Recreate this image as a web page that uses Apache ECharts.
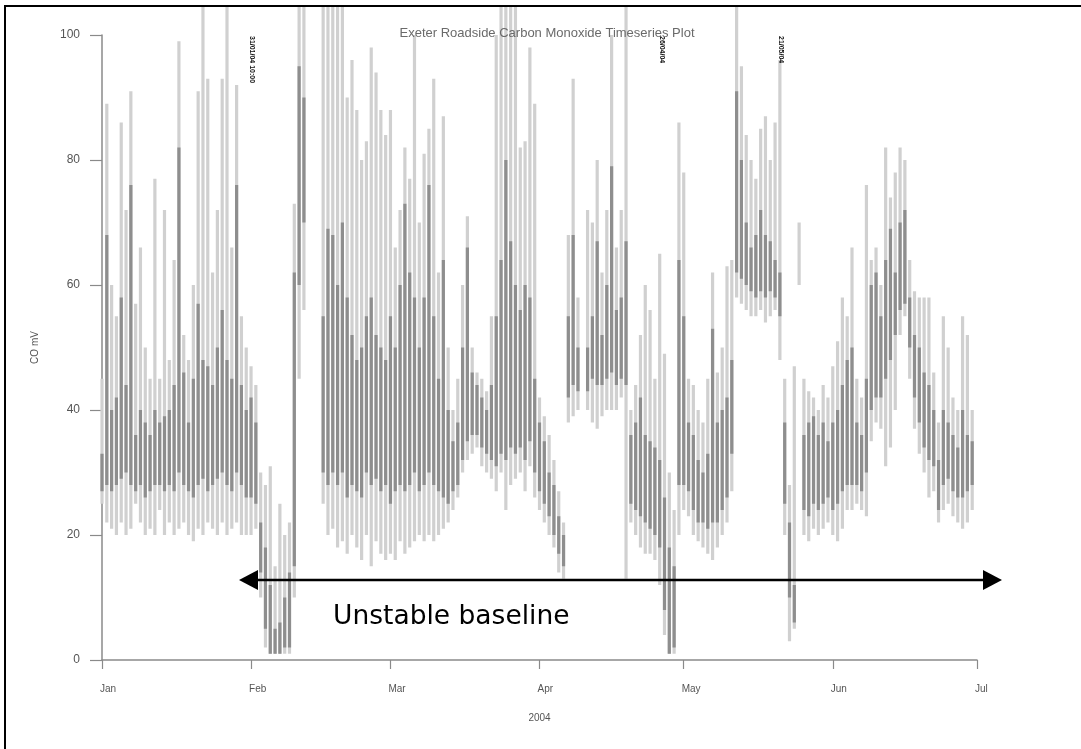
<!DOCTYPE html>
<html>
<head>
<meta charset="utf-8">
<script src="https://cdn.jsdelivr.net/npm/echarts@6/dist/echarts.min.js"></script>
<style>
html,body{margin:0;padding:0;background:#fff;}
#chart{width:1081px;height:749px;}
</style>
</head>
<body>
<div id="chart"></div>
<script>
// Day index (0 = 1 Jan 2004). Values in mV; 105 = spike clipped at the frame top.
const monthDays = [0, 31, 60, 91, 121, 152, 182];
const monthLabels = ['Jan', 'Feb', 'Mar', 'Apr', 'May', 'Jun', 'Jul'];

// daily minimum (light range bottom)
const lowVals = [
  25,22,21,20,22,20,21,25,22,20, 21,20,24,20,22,20,21,22,20,19, 21,20,22,21,20,22,20,21,22,20, 20,
  20,21,10,2,1,1,1,1,1,10,45,56,
  null,null,null,
  25,20,21,18,19,17,20,18,16,20,15,19,17,16,
  17,16,19,17,18,19,20,19,20,19, 20,21,22,24,26,30,32,33,34,31, 30,29,27,30,24,28,29,30,27,31, 26,
  24,22,20,18,14,13,38,39,40,
  null,
  40,38,37,39,40,40,40,42,13,
  22,20,18,17,17,16,12,4,1,1,20,
  24,23,20,19,18,17,16,18,20,22,27,
  58,57,56,55,55,56,54,55,56,48,
  20,3,5,60,20,19,21,20,21,22,
  20,19,21,24,24,25,24,23,
  35,38,37,31,34,40,52,55,
  45,37,33,30,26,27,
  22,24,25,23,22,21,22,24
];
// dark core bottom
const coreLowVals = [
  27,28,27,28,29,30,28,27,28,26, 27,28,28,27,28,27,30,28,27,26, 28,29,27,28,29,30,28,27,30,28, 26,
  26,25,14,5,1,1,1,2,2,15,60,70,
  null,null,null,
  30,28,30,28,30,26,28,27,26,30,28,29,27,28,
  25,27,28,27,28,30,27,28,30,28, 27,26,25,27,28,32,35,36,36,34, 33,32,31,33,32,34,33,34,32,35, 30,
  27,25,23,20,17,15,42,44,43,
  null,
  43,45,44,44,45,46,44,45,44,
  25,24,23,22,21,20,18,8,1,2,28,
  28,27,24,22,22,21,22,22,24,26,33,
  62,61,60,59,58,59,58,59,58,55,
  25,10,6,null,24,23,25,24,25,26,
  24,25,27,28,28,28,27,30,
  40,42,42,45,48,52,56,57,
  50,42,38,34,32,31,
  24,28,29,27,26,26,27,28
];
// dark core top
const coreHighVals = [
  33,68,40,42,58,44,76,36,40,38, 36,40,38,39,40,44,82,46,38,45, 57,48,47,44,50,56,48,45,76,44, 40,
  42,38,22,18,12,5,6,10,14,62,95,90,
  null,null,null,
  55,69,68,60,70,58,52,48,50,55,58,52,50,48,
  55,50,60,73,62,58,50,58,76,55, 45,64,40,35,38,50,66,46,44,42, 40,44,55,64,80,67,60,56,60,58, 45,
  38,35,30,28,23,20,55,68,50,
  null,
  50,55,67,52,60,79,56,58,67,
  36,38,42,36,35,34,32,26,18,15,64,
  55,38,36,32,30,33,53,38,40,42,48,
  91,80,70,66,68,72,68,67,64,62,
  38,22,12,null,36,38,39,36,38,35,
  38,40,44,48,50,38,36,45,
  60,62,55,64,69,62,70,72,
  58,52,50,46,44,40,
  32,40,38,36,34,40,36,35
];
// daily maximum (light spike top)
const highVals = [
  45,89,60,55,86,72,91,57,66,50, 45,77,45,72,48,64,99,52,48,60, 91,105,93,62,72,93,105,66,92,55, 50,
  47,44,30,28,31,15,25,20,22,73,105,105,
  null,null,null,
  105,105,105,105,105,90,96,88,80,83,98,94,88,84,
  88,66,72,82,77,100,70,81,85,93, 62,87,50,40,45,60,71,50,46,45, 43,55,100,105,105,105,105,82,83,98, 89,
  42,39,36,32,27,22,68,93,58,
  null,
  72,70,80,62,72,100,66,72,105,
  40,44,52,60,56,45,65,49,30,24,86,
  78,45,44,40,38,45,62,46,50,63,64,
  105,95,84,80,77,85,87,80,86,96,
  45,28,47,70,45,43,42,40,44,42,
  47,51,58,55,66,45,42,76,
  64,66,60,82,74,78,82,80,
  64,59,58,58,58,46,
  38,55,50,42,40,55,52,40
];
// instrument notes written vertically at the top
const noteDays = [31.2, 116.5, 141.3];
const noteLabels = ['31/01/04 10:00', '26/04/04', '21/05/04'];

const seriesData = lowVals.map((v, i) => [i, v, coreLowVals[i], coreHighVals[i], highVals[i]]);
const noteData = noteDays.map((d, i) => [d, 100, noteLabels[i]]);

const chart = echarts.init(document.getElementById('chart'), null, {renderer: 'canvas'});
const axisGray = '#8a8a8a';
const textGray = '#555';

chart.setOption({
  animation: false,
  backgroundColor: '#fff',
  title: {
    text: 'Exeter Roadside Carbon Monoxide Timeseries Plot',
    left: 542, top: 22, textAlign: 'center',
    textStyle: {fontFamily: 'Liberation Sans', fontSize: 13, fontWeight: 'normal', color: '#6a6a6a'}
  },
  grid: {left: 102, right: 104, top: 35, bottom: 89},
  xAxis: {
    type: 'value', min: 0, max: 182,
    name: '2004', nameLocation: 'middle', nameGap: 53,
    nameTextStyle: {fontFamily: 'Liberation Sans', fontSize: 10, color: textGray},
    axisLine: {show: true, lineStyle: {color: axisGray, width: 1.5}},
    axisTick: {show: true, customValues: monthDays, length: 9, lineStyle: {color: axisGray, width: 1.2}},
    axisLabel: {
      customValues: monthDays, margin: 24, align: 'left', padding: [0, 0, 0, -2],
      fontFamily: 'Liberation Sans', fontSize: 10, color: textGray,
      formatter: v => monthLabels[monthDays.indexOf(Math.round(v))] || ''
    },
    splitLine: {show: false}
  },
  yAxis: {
    type: 'value', min: 0, max: 100, interval: 20,
    name: 'CO mV', nameLocation: 'middle', nameGap: 62, nameRotate: 90,
    nameTextStyle: {fontFamily: 'Liberation Sans', fontSize: 10, color: textGray},
    axisLine: {show: true, lineStyle: {color: axisGray, width: 1.5}},
    axisTick: {show: true, length: 12, lineStyle: {color: axisGray, width: 1.2}},
    axisLabel: {margin: 22, fontFamily: 'Liberation Sans', fontSize: 12, color: textGray},
    splitLine: {show: false}
  },
  series: [
    {
      type: 'custom',
      clip: false,
      encode: {x: 0, y: [1, 4]},
      data: seriesData,
      renderItem: function (params, api) {
        const d = api.value(0);
        const lo = api.value(1), clo = api.value(2), chi = api.value(3), hi = api.value(4);
        const children = [];
        if (isFinite(lo) && isFinite(hi)) {
          const a = api.coord([d, lo]), b = api.coord([d, hi]);
          children.push({type: 'line', shape: {x1: a[0], y1: a[1], x2: b[0], y2: b[1]},
            style: {stroke: '#d0d0d0', lineWidth: 3.2}});
        }
        if (isFinite(clo) && isFinite(chi)) {
          const a = api.coord([d, clo]), b = api.coord([d, chi]);
          children.push({type: 'line', shape: {x1: a[0], y1: a[1], x2: b[0], y2: b[1]},
            style: {stroke: '#8e8e8e', lineWidth: 3.2}});
        }
        return {type: 'group', children: children};
      }
    },
    {
      type: 'custom',
      clip: false,
      z: 5,
      encode: {x: 0, y: 1},
      data: noteData,
      renderItem: function (params, api) {
        const p = api.coord([api.value(0), api.value(1)]);
        return {
          type: 'text', x: p[0], y: p[1] + 1, rotation: -Math.PI / 2,
          style: {text: noteLabels[params.dataIndex], fill: '#111', font: 'bold 7px "Liberation Sans"',
            textAlign: 'left', textVerticalAlign: 'middle'}
        };
      }
    }
  ],
  graphic: [
    {type: 'rect', z: 100, shape: {x: 0, y: 0, width: 1081, height: 5}, style: {fill: '#fff'}},
    {type: 'line', z: 101, shape: {x1: 4, y1: 6, x2: 1081, y2: 6}, style: {stroke: '#000', lineWidth: 2}},
    {type: 'line', z: 101, shape: {x1: 5, y1: 5, x2: 5, y2: 749}, style: {stroke: '#000', lineWidth: 2}},
    {type: 'line', z: 101, shape: {x1: 252, y1: 580, x2: 990, y2: 580}, style: {stroke: '#000', lineWidth: 2.5}},
    {type: 'polygon', z: 101, shape: {points: [[239, 580], [258, 570], [258, 590]]}, style: {fill: '#000'}},
    {type: 'polygon', z: 101, shape: {points: [[1002, 580], [983, 570], [983, 590]]}, style: {fill: '#000'}},
    {type: 'text', z: 101, x: 333, y: 617,
      style: {text: 'Unstable baseline', fill: '#000', font: '26.5px "DejaVu Sans"', textAlign: 'left', textVerticalAlign: 'middle'}}
  ]
});
</script>
</body>
</html>
